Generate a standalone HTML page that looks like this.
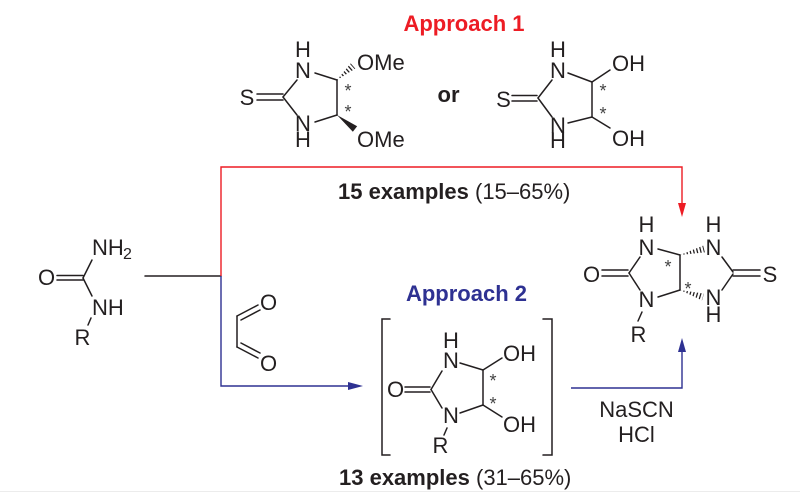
<!DOCTYPE html>
<html>
<head>
<meta charset="utf-8">
<style>
html,body{margin:0;padding:0;background:#fff;}
svg{display:block;}
text{font-family:"Liberation Sans",Arial,sans-serif;fill:#231f20;}
.a{font-size:22px;}
.ast{font-size:18px;fill:#444;}
</style>
</head>
<body>
<svg width="800" height="495" viewBox="0 0 800 495" xmlns="http://www.w3.org/2000/svg">
<defs>
  <clipPath id="h1"><polygon points="337,80 355.31,68.64 350.69,63.36"/></clipPath>
  <clipPath id="h2"><polygon points="680,255 704.85,252.4 703.15,245.6"/></clipPath>
  <clipPath id="h3"><polygon points="680,290 701.98,300.35 704.02,293.65"/></clipPath>
</defs>

<!-- Approach 1 title -->
<text x="464" y="31" text-anchor="middle" style="font-size:22px;font-weight:bold;fill:#ed1c24">Approach 1</text>

<g stroke="#231f20" stroke-width="1.5" fill="none" stroke-linecap="round">
  <!-- top-left thione -->
  <line x1="257" y1="94" x2="283" y2="94"/>
  <line x1="257" y1="100" x2="283" y2="100"/>
  <line x1="283" y1="97" x2="297" y2="80"/>
  <line x1="283" y1="97" x2="297" y2="115"/>
  <line x1="315" y1="73" x2="337" y2="80"/>
  <line x1="337" y1="80" x2="337" y2="115"/>
  <line x1="315" y1="122" x2="337" y2="115"/>

  <!-- top-right thione -->
  <line x1="512" y1="95.5" x2="537" y2="95.5"/>
  <line x1="512" y1="101" x2="537" y2="101"/>
  <line x1="538" y1="98" x2="552" y2="80"/>
  <line x1="538" y1="98" x2="552" y2="117"/>
  <line x1="568" y1="73" x2="592" y2="82"/>
  <line x1="592" y1="82" x2="592" y2="117"/>
  <line x1="568" y1="123" x2="592" y2="117"/>
  <line x1="592" y1="82" x2="610" y2="70"/>
  <line x1="592" y1="117" x2="610" y2="128"/>

  <!-- urea -->
  <line x1="57" y1="275.5" x2="83" y2="275.5"/>
  <line x1="57" y1="280" x2="83" y2="280"/>
  <line x1="83" y1="278" x2="92" y2="260"/>
  <line x1="83" y1="278" x2="92" y2="296"/>
  <line x1="91" y1="318" x2="88" y2="325"/>
  <line x1="145" y1="276" x2="221" y2="276"/>

  <!-- glyoxal -->
  <line x1="237" y1="316" x2="258" y2="305"/>
  <line x1="241" y1="320" x2="260" y2="310"/>
  <line x1="237" y1="316" x2="237" y2="347"/>
  <line x1="237" y1="347" x2="258" y2="358"/>
  <line x1="241" y1="343" x2="260" y2="353"/>

  <!-- intermediate -->
  <polyline points="390,319 382,319 382,455 390,455"/>
  <polyline points="543,319 552,319 552,455 543,455"/>
  <line x1="405" y1="387" x2="430" y2="387"/>
  <line x1="405" y1="392" x2="430" y2="392"/>
  <line x1="431" y1="389.5" x2="442" y2="371"/>
  <line x1="431" y1="389.5" x2="442" y2="408"/>
  <line x1="460" y1="363" x2="483" y2="370"/>
  <line x1="483" y1="370" x2="483" y2="405"/>
  <line x1="460" y1="413" x2="483" y2="405"/>
  <line x1="483" y1="370" x2="502" y2="358"/>
  <line x1="483" y1="405" x2="502" y2="417"/>
  <line x1="447" y1="428" x2="444" y2="435"/>

  <!-- product -->
  <line x1="602" y1="270" x2="628" y2="270"/>
  <line x1="602" y1="276" x2="628" y2="276"/>
  <line x1="629" y1="273" x2="640" y2="257"/>
  <line x1="629" y1="273" x2="640" y2="290"/>
  <line x1="658" y1="249" x2="680" y2="255"/>
  <line x1="680" y1="255" x2="680" y2="290"/>
  <line x1="658" y1="297" x2="680" y2="290"/>
  <line x1="642" y1="312" x2="638" y2="321"/>
  <line x1="722" y1="257" x2="733" y2="272"/>
  <line x1="733" y1="274" x2="722" y2="290"/>
  <line x1="733" y1="270" x2="760" y2="270"/>
  <line x1="733" y1="276" x2="760" y2="276"/>
</g>

<!-- hashed / wedged bonds -->
<line x1="337" y1="80" x2="355" y2="64" stroke="#231f20" stroke-width="9" stroke-dasharray="1.3 2.1" clip-path="url(#h1)"/>
<polygon points="337,115 352.85,131.76 357.15,126.24" fill="#231f20"/>
<line x1="680" y1="255" x2="706" y2="248.5" stroke="#231f20" stroke-width="9" stroke-dasharray="1.3 2.1" clip-path="url(#h2)"/>
<line x1="680" y1="290" x2="705" y2="297.6" stroke="#231f20" stroke-width="9" stroke-dasharray="1.3 2.1" clip-path="url(#h3)"/>

<!-- top-left labels -->
<text class="a" x="303" y="57" text-anchor="middle">H</text>
<text class="a" x="303" y="78" text-anchor="middle">N</text>
<text class="a" x="247" y="105" text-anchor="middle">S</text>
<text class="a" x="303" y="131" text-anchor="middle">N</text>
<text class="a" x="303" y="147" text-anchor="middle">H</text>
<text class="a" x="357" y="70">OMe</text>
<text class="a" x="357" y="147">OMe</text>
<text class="ast" x="348" y="97" text-anchor="middle">*</text>
<text class="ast" x="348" y="118" text-anchor="middle">*</text>

<text x="448.5" y="102" text-anchor="middle" style="font-size:22px;font-weight:bold">or</text>

<!-- top-right labels -->
<text class="a" x="558" y="57" text-anchor="middle">H</text>
<text class="a" x="558" y="78" text-anchor="middle">N</text>
<text class="a" x="503.5" y="107" text-anchor="middle">S</text>
<text class="a" x="558" y="133" text-anchor="middle">N</text>
<text class="a" x="558" y="148" text-anchor="middle">H</text>
<text class="a" x="612" y="71">OH</text>
<text class="a" x="612" y="146">OH</text>
<text class="ast" x="603" y="97" text-anchor="middle">*</text>
<text class="ast" x="603" y="120" text-anchor="middle">*</text>

<!-- red path -->
<path d="M221,276 V167 H682 V205" fill="none" stroke="#ed1c24" stroke-width="1.4"/>
<polygon points="682,217 678,203 686,203" fill="#ed1c24"/>

<text x="338" y="199" style="font-size:22px"><tspan font-weight="bold">15 examples</tspan> (15–65%)</text>

<!-- urea labels -->
<text class="a" x="92" y="255">NH</text>
<text x="123" y="259" style="font-size:16px">2</text>
<text class="a" x="46.5" y="285" text-anchor="middle">O</text>
<text class="a" x="92" y="315">NH</text>
<text class="a" x="82.5" y="345" text-anchor="middle">R</text>

<!-- glyoxal labels -->
<text class="a" x="268.5" y="310" text-anchor="middle">O</text>
<text class="a" x="268.5" y="371" text-anchor="middle">O</text>

<!-- blue path -->
<path d="M221,276 V386 H350" fill="none" stroke="#2e3192" stroke-width="1.4"/>
<polygon points="363,386 348,382 348,390" fill="#2e3192"/>

<text x="466.5" y="301" text-anchor="middle" style="font-size:22px;font-weight:bold;fill:#2e3192">Approach 2</text>

<!-- intermediate labels -->
<text class="a" x="451" y="348" text-anchor="middle">H</text>
<text class="a" x="451" y="368" text-anchor="middle">N</text>
<text class="a" x="395.5" y="397" text-anchor="middle">O</text>
<text class="a" x="451" y="423" text-anchor="middle">N</text>
<text class="a" x="440.5" y="453" text-anchor="middle">R</text>
<text class="a" x="503" y="361">OH</text>
<text class="a" x="503" y="432">OH</text>
<text class="ast" x="493" y="387" text-anchor="middle">*</text>
<text class="ast" x="493" y="410" text-anchor="middle">*</text>

<text x="339" y="485" style="font-size:22px"><tspan font-weight="bold">13 examples</tspan> (31–65%)</text>

<!-- product labels -->
<text class="a" x="646.5" y="232" text-anchor="middle">H</text>
<text class="a" x="646.5" y="255" text-anchor="middle">N</text>
<text class="a" x="591.5" y="282" text-anchor="middle">O</text>
<text class="a" x="646.5" y="307" text-anchor="middle">N</text>
<text class="a" x="638.5" y="342" text-anchor="middle">R</text>
<text class="a" x="713.5" y="232" text-anchor="middle">H</text>
<text class="a" x="713.5" y="255" text-anchor="middle">N</text>
<text class="a" x="713.5" y="305" text-anchor="middle">N</text>
<text class="a" x="713.5" y="322" text-anchor="middle">H</text>
<text class="a" x="770" y="282" text-anchor="middle">S</text>
<text class="ast" x="668" y="273" text-anchor="middle">*</text>
<text class="ast" x="688" y="295" text-anchor="middle">*</text>

<!-- blue arrow 2 -->
<path d="M571,388 H682 V351" fill="none" stroke="#2e3192" stroke-width="1.4"/>
<polygon points="682,338 678,352 686,352" fill="#2e3192"/>
<text class="a" x="636.5" y="417" text-anchor="middle">NaSCN</text>
<text class="a" x="636.5" y="442" text-anchor="middle">HCl</text>

<line x1="0" y1="491.5" x2="800" y2="491.5" stroke="#ececec" stroke-width="1"/>
</svg>
</body>
</html>
